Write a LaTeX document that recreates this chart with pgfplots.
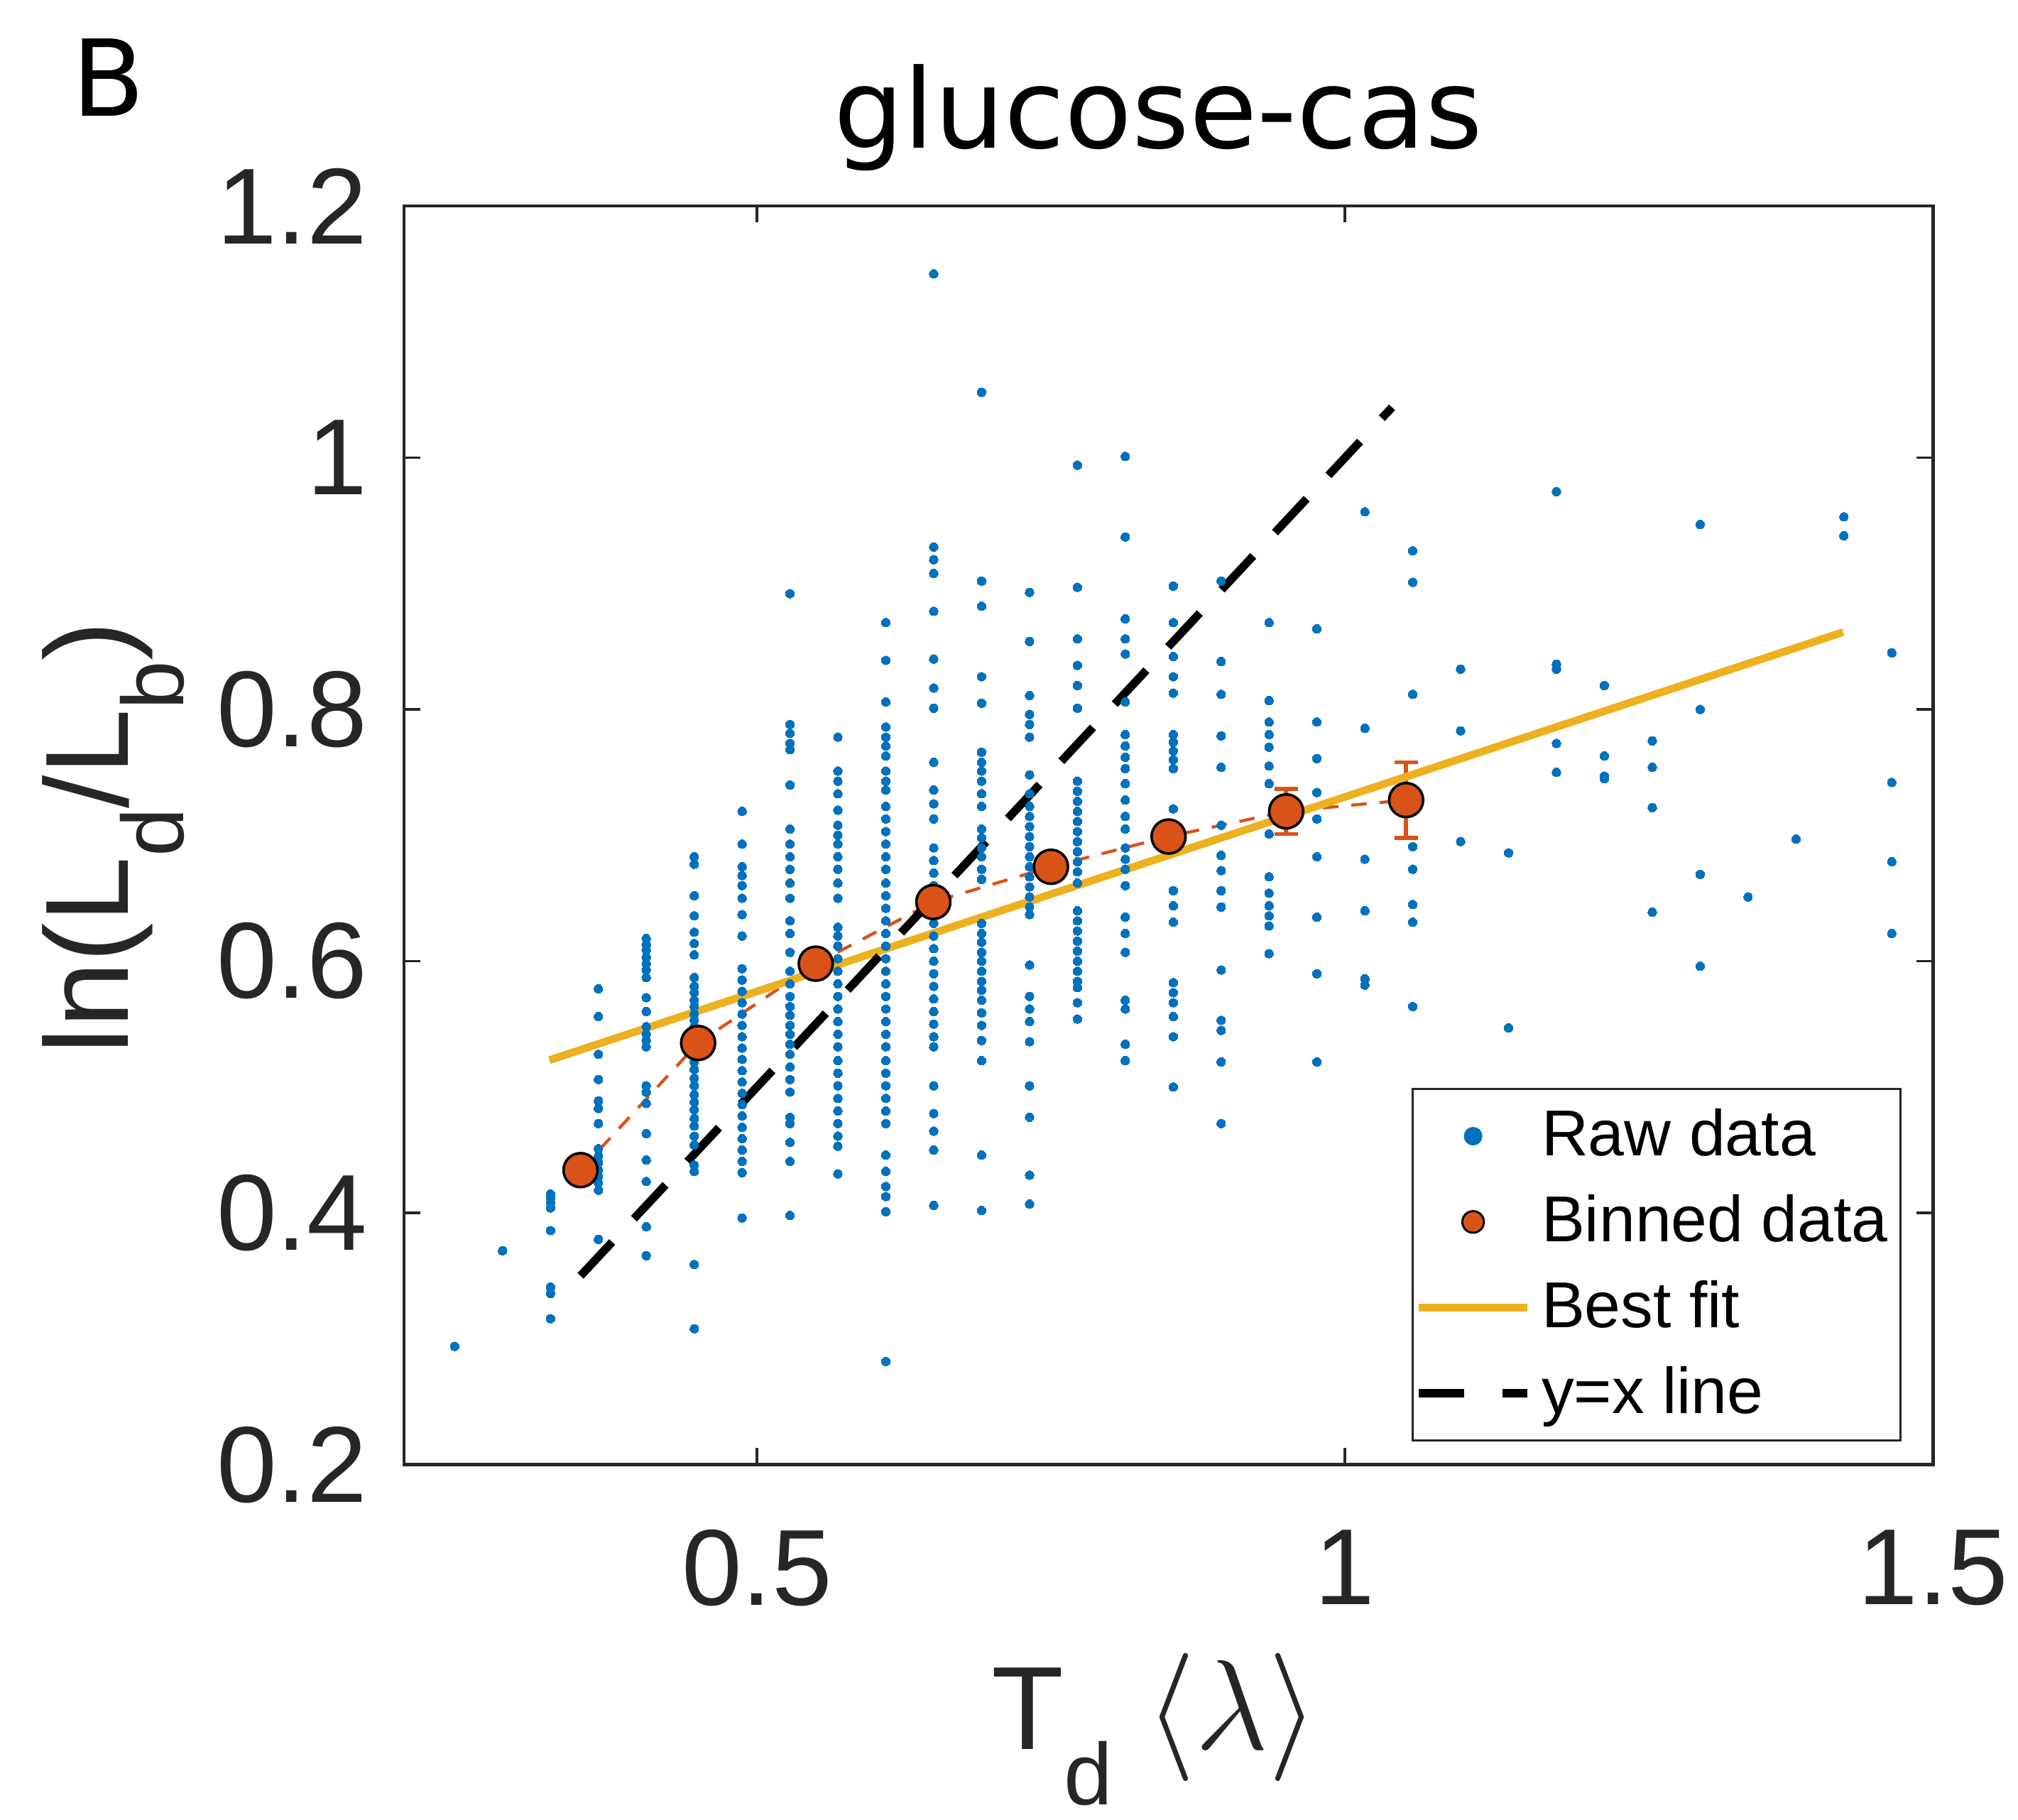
\documentclass[border=0pt]{standalone}
\usepackage{pgfplots}
\pgfplotsset{compat=1.18}
\usepackage{fontspec}
\setmainfont{Liberation Sans}
\newfontfamily\titlefont{DejaVu Sans}
\definecolor{mblue}{RGB}{0,114,189}
\definecolor{morange}{RGB}{217,83,25}
\definecolor{myellow}{RGB}{237,177,32}
\definecolor{axgray}{RGB}{38,38,38}
\newcommand\msub[1]{\raisebox{-0.47em}{\fontsize{17}{20}\selectfont #1}}

\pgfplotstableread{
x y
0.2430 0.294
0.2837 0.370
0.3245 0.415
0.3245 0.412
0.3245 0.408
0.3245 0.404
0.3245 0.386
0.3245 0.341
0.3245 0.336
0.3245 0.316
0.3652 0.578
0.3652 0.556
0.3652 0.526
0.3652 0.506
0.3652 0.489
0.3652 0.483
0.3652 0.471
0.3652 0.451
0.3652 0.445
0.3652 0.440
0.3652 0.434
0.3652 0.429
0.3652 0.424
0.3652 0.418
0.3652 0.379
0.4059 0.618
0.4059 0.613
0.4059 0.609
0.4059 0.603
0.4059 0.598
0.4059 0.593
0.4059 0.587
0.4059 0.571
0.4059 0.560
0.4059 0.548
0.4059 0.542
0.4059 0.537
0.4059 0.532
0.4059 0.501
0.4059 0.496
0.4059 0.487
0.4059 0.463
0.4059 0.442
0.4059 0.425
0.4059 0.389
0.4059 0.366
0.4467 0.683
0.4467 0.677
0.4467 0.652
0.4467 0.636
0.4467 0.623
0.4467 0.614
0.4467 0.605
0.4467 0.587
0.4467 0.580
0.4467 0.575
0.4467 0.569
0.4467 0.564
0.4467 0.558
0.4467 0.553
0.4467 0.548
0.4467 0.533
0.4467 0.527
0.4467 0.520
0.4467 0.514
0.4467 0.507
0.4467 0.501
0.4467 0.494
0.4467 0.488
0.4467 0.482
0.4467 0.475
0.4467 0.469
0.4467 0.461
0.4467 0.454
0.4467 0.438
0.4467 0.433
0.4467 0.359
0.4467 0.308
0.4874 0.719
0.4874 0.693
0.4874 0.675
0.4874 0.668
0.4874 0.660
0.4874 0.650
0.4874 0.637
0.4874 0.620
0.4874 0.594
0.4874 0.585
0.4874 0.576
0.4874 0.567
0.4874 0.558
0.4874 0.549
0.4874 0.540
0.4874 0.531
0.4874 0.522
0.4874 0.513
0.4874 0.504
0.4874 0.495
0.4874 0.486
0.4874 0.477
0.4874 0.468
0.4874 0.459
0.4874 0.450
0.4874 0.441
0.4874 0.432
0.4874 0.396
0.5281 0.892
0.5281 0.788
0.5281 0.781
0.5281 0.773
0.5281 0.768
0.5281 0.740
0.5281 0.705
0.5281 0.693
0.5281 0.683
0.5281 0.673
0.5281 0.662
0.5281 0.650
0.5281 0.632
0.5281 0.622
0.5281 0.607
0.5281 0.592
0.5281 0.582
0.5281 0.572
0.5281 0.564
0.5281 0.557
0.5281 0.549
0.5281 0.542
0.5281 0.534
0.5281 0.526
0.5281 0.516
0.5281 0.506
0.5281 0.496
0.5281 0.476
0.5281 0.471
0.5281 0.456
0.5281 0.441
0.5281 0.398
0.5688 0.778
0.5688 0.751
0.5688 0.743
0.5688 0.733
0.5688 0.720
0.5688 0.708
0.5688 0.700
0.5688 0.693
0.5688 0.683
0.5688 0.673
0.5688 0.662
0.5688 0.650
0.5688 0.627
0.5688 0.620
0.5688 0.612
0.5688 0.602
0.5688 0.592
0.5688 0.582
0.5688 0.572
0.5688 0.562
0.5688 0.552
0.5688 0.542
0.5688 0.532
0.5688 0.521
0.5688 0.511
0.5688 0.501
0.5688 0.491
0.5688 0.481
0.5688 0.471
0.5688 0.461
0.5688 0.453
0.5688 0.431
0.6096 0.869
0.6096 0.839
0.6096 0.806
0.6096 0.786
0.6096 0.778
0.6096 0.771
0.6096 0.763
0.6096 0.751
0.6096 0.743
0.6096 0.736
0.6096 0.723
0.6096 0.713
0.6096 0.703
0.6096 0.693
0.6096 0.683
0.6096 0.673
0.6096 0.662
0.6096 0.652
0.6096 0.642
0.6096 0.632
0.6096 0.622
0.6096 0.612
0.6096 0.602
0.6096 0.592
0.6096 0.582
0.6096 0.572
0.6096 0.562
0.6096 0.552
0.6096 0.542
0.6096 0.532
0.6096 0.521
0.6096 0.511
0.6096 0.501
0.6096 0.491
0.6096 0.481
0.6096 0.471
0.6096 0.446
0.6096 0.433
0.6096 0.421
0.6096 0.413
0.6096 0.401
0.6096 0.282
0.6503 1.146
0.6503 0.929
0.6503 0.919
0.6503 0.908
0.6503 0.878
0.6503 0.840
0.6503 0.817
0.6503 0.801
0.6503 0.758
0.6503 0.736
0.6503 0.725
0.6503 0.713
0.6503 0.690
0.6503 0.680
0.6503 0.670
0.6503 0.660
0.6503 0.650
0.6503 0.640
0.6503 0.630
0.6503 0.620
0.6503 0.610
0.6503 0.600
0.6503 0.590
0.6503 0.580
0.6503 0.570
0.6503 0.560
0.6503 0.550
0.6503 0.540
0.6503 0.532
0.6503 0.501
0.6503 0.479
0.6503 0.465
0.6503 0.450
0.6503 0.406
0.6910 1.052
0.6910 0.902
0.6910 0.882
0.6910 0.826
0.6910 0.805
0.6910 0.766
0.6910 0.758
0.6910 0.751
0.6910 0.743
0.6910 0.733
0.6910 0.723
0.6910 0.705
0.6910 0.698
0.6910 0.690
0.6910 0.683
0.6910 0.673
0.6910 0.665
0.6910 0.630
0.6910 0.622
0.6910 0.615
0.6910 0.607
0.6910 0.600
0.6910 0.592
0.6910 0.584
0.6910 0.577
0.6910 0.569
0.6910 0.559
0.6910 0.549
0.6910 0.537
0.6910 0.521
0.6910 0.446
0.6910 0.402
0.7318 0.893
0.7318 0.854
0.7318 0.811
0.7318 0.796
0.7318 0.788
0.7318 0.778
0.7318 0.748
0.7318 0.733
0.7318 0.723
0.7318 0.715
0.7318 0.707
0.7318 0.699
0.7318 0.691
0.7318 0.683
0.7318 0.675
0.7318 0.667
0.7318 0.659
0.7318 0.651
0.7318 0.643
0.7318 0.637
0.7318 0.597
0.7318 0.572
0.7318 0.562
0.7318 0.552
0.7318 0.536
0.7318 0.501
0.7318 0.476
0.7318 0.430
0.7318 0.407
0.7725 0.994
0.7725 0.897
0.7725 0.856
0.7725 0.835
0.7725 0.819
0.7725 0.801
0.7725 0.743
0.7725 0.735
0.7725 0.727
0.7725 0.719
0.7725 0.711
0.7725 0.703
0.7725 0.695
0.7725 0.687
0.7725 0.679
0.7725 0.671
0.7725 0.662
0.7725 0.640
0.7725 0.632
0.7725 0.624
0.7725 0.616
0.7725 0.608
0.7725 0.600
0.7725 0.592
0.7725 0.584
0.7725 0.579
0.7725 0.567
0.7725 0.554
0.8132 1.001
0.8132 0.937
0.8132 0.872
0.8132 0.856
0.8132 0.844
0.8132 0.806
0.8132 0.780
0.8132 0.771
0.8132 0.762
0.8132 0.753
0.8132 0.741
0.8132 0.728
0.8132 0.715
0.8132 0.705
0.8132 0.690
0.8132 0.681
0.8132 0.673
0.8132 0.660
0.8132 0.635
0.8132 0.622
0.8132 0.607
0.8132 0.569
0.8132 0.562
0.8132 0.534
0.8132 0.521
0.8540 0.898
0.8540 0.869
0.8540 0.842
0.8540 0.826
0.8540 0.813
0.8540 0.780
0.8540 0.774
0.8540 0.767
0.8540 0.760
0.8540 0.753
0.8540 0.721
0.8540 0.656
0.8540 0.644
0.8540 0.631
0.8540 0.583
0.8540 0.575
0.8540 0.567
0.8540 0.556
0.8540 0.540
0.8540 0.500
0.8947 0.902
0.8947 0.838
0.8947 0.812
0.8947 0.779
0.8947 0.754
0.8947 0.708
0.8947 0.684
0.8947 0.672
0.8947 0.656
0.8947 0.643
0.8947 0.593
0.8947 0.553
0.8947 0.545
0.8947 0.520
0.8947 0.471
0.9354 0.869
0.9354 0.807
0.9354 0.790
0.9354 0.780
0.9354 0.770
0.9354 0.755
0.9354 0.741
0.9354 0.701
0.9354 0.667
0.9354 0.654
0.9354 0.644
0.9354 0.636
0.9354 0.628
0.9354 0.606
0.9761 0.864
0.9761 0.790
0.9761 0.761
0.9761 0.734
0.9761 0.713
0.9761 0.683
0.9761 0.635
0.9761 0.590
0.9761 0.520
1.0169 0.957
1.0169 0.785
1.0169 0.681
1.0169 0.640
1.0169 0.586
1.0169 0.581
1.0576 0.926
1.0576 0.901
1.0576 0.812
1.0576 0.691
1.0576 0.673
1.0576 0.645
1.0576 0.631
1.0576 0.564
1.0983 0.832
1.0983 0.783
1.0983 0.695
1.1391 0.686
1.1391 0.547
1.1798 0.973
1.1798 0.836
1.1798 0.832
1.1798 0.773
1.1798 0.750
1.2205 0.819
1.2205 0.763
1.2205 0.747
1.2205 0.745
1.2613 0.775
1.2613 0.754
1.2613 0.722
1.2613 0.639
1.3020 0.947
1.3020 0.800
1.3020 0.669
1.3020 0.596
1.3427 0.651
1.3835 0.697
1.4242 0.953
1.4242 0.938
1.4649 0.845
1.4649 0.742
1.4649 0.679
1.4649 0.622
}\rawdata

\pgfplotstableread{
x y e
0.350 0.434 0.008
0.450 0.535 0.005
0.550 0.598 0.004
0.650 0.647 0.004
0.750 0.675 0.005
0.850 0.699 0.008
0.950 0.719 0.018
1.052 0.728 0.030
}\binned

\begin{document}
\begin{tikzpicture}
\useasboundingbox (-78.5pt,-69pt) rectangle (313.5pt,284.5pt);
\begin{axis}[
  name=ax, at={(0pt,0pt)}, anchor=south west,
  scale only axis, width=297pt, height=244.5pt,
  xmin=0.2, xmax=1.5, ymin=0.2, ymax=1.2,
  xtick={0.5,1,1.5}, ytick={0.2,0.4,0.6,0.8,1,1.2},
  tick align=inside, tick pos=both, major tick length=3.2pt,
  axis line style={axgray, line width=0.6pt},
  every tick/.style={axgray, line width=0.5pt},
  /pgf/number format/assume math mode=true,
  ticklabel style={font=\fontsize{21}{25}\selectfont, text=axgray},
  xticklabel style={anchor=north, inner sep=0pt, yshift=-12.5pt},
  yticklabel style={anchor=east, inner sep=0pt, xshift=-7pt},
  legend cell align=left,
  legend style={at={(rel axis cs:0.9795,0.0184)}, anchor=south east,
    draw=axgray, line width=0.4pt, fill=white,
    font=\fontsize{12.6}{15}\selectfont,
    inner xsep=0.5pt, inner ysep=1.5pt, row sep=1.35pt,
    nodes={inner xsep=2pt, inner ysep=2.3pt}},
]
\addplot[only marks, mark=*, mark size=0.85pt, mark options={draw=mblue, fill=mblue, line width=0pt},
  legend image code/.code={\fill[mblue] (10.5pt,0pt) circle (1.6pt);}]
  table[x=x, y=y] {\rawdata};
\addlegendentry{\rule[-2.6pt]{0pt}{11.8pt}Raw data}

\addplot[color=morange, line width=0.6pt, dash pattern=on 3pt off 2.5pt,
  mark=*, mark size=3.3pt, mark options={solid, fill=morange, draw=black, line width=0.5pt},
  legend image code/.code={\path[solid, draw=black, fill=morange, line width=0.4pt] (10.5pt,0pt) circle (2.1pt);},
  error bars/.cd, y dir=both, y explicit,
  error bar style={solid, line width=0.8pt, color=morange},
  error mark options={rotate=90, mark size=2.3pt, line width=0.8pt, color=morange}]
  table[x=x, y=y, y error=e] {\binned};
\addlegendentry{\rule[-2.6pt]{0pt}{11.8pt}Binned data}

\addplot[myellow, line width=1.5pt,
  legend image code/.code={\draw[myellow, line width=1.5pt] (0pt,0pt) -- (21pt,0pt);}]
  coordinates {(0.3236,0.5214) (1.4236,0.8614)};
\addlegendentry{\rule[-2.6pt]{0pt}{11.8pt}Best fit}

\addplot[black, line width=1.6pt, dash pattern=on 9pt off 6.2pt,
  legend image code/.code={\draw[black, line width=1.6pt] (0pt,0pt) -- (8.75pt,0pt); \draw[black, line width=1.6pt] (16.25pt,0pt) -- (21pt,0pt);}]
  coordinates {(0.35,0.35) (1.04,1.04)};
\addlegendentry{\rule[-2.6pt]{0pt}{11.8pt}y=x line}
\end{axis}

% title and panel label
\node[anchor=base, font=\titlefont\fontsize{21.4}{25}\selectfont] at (146.5pt,255.75pt) {glucose-cas};
\node[anchor=base west, inner sep=0pt, font=\titlefont\fontsize{20.6}{24}\selectfont] at (-64.75pt,262pt) {B};
% axis labels
\node[anchor=base, inner sep=0pt, font=\fontsize{23}{27}\selectfont, text=axgray] at (145.9pt,-55.3pt)
  {T\msub{d} $\langle\lambda\rangle$};
\node[anchor=base, inner sep=0pt, rotate=90, font=\fontsize{23}{27}\selectfont, text=axgray] at (-53.6pt,121.75pt)
  {ln(L\msub{d}/L\msub{b})};
\end{tikzpicture}
\end{document}
